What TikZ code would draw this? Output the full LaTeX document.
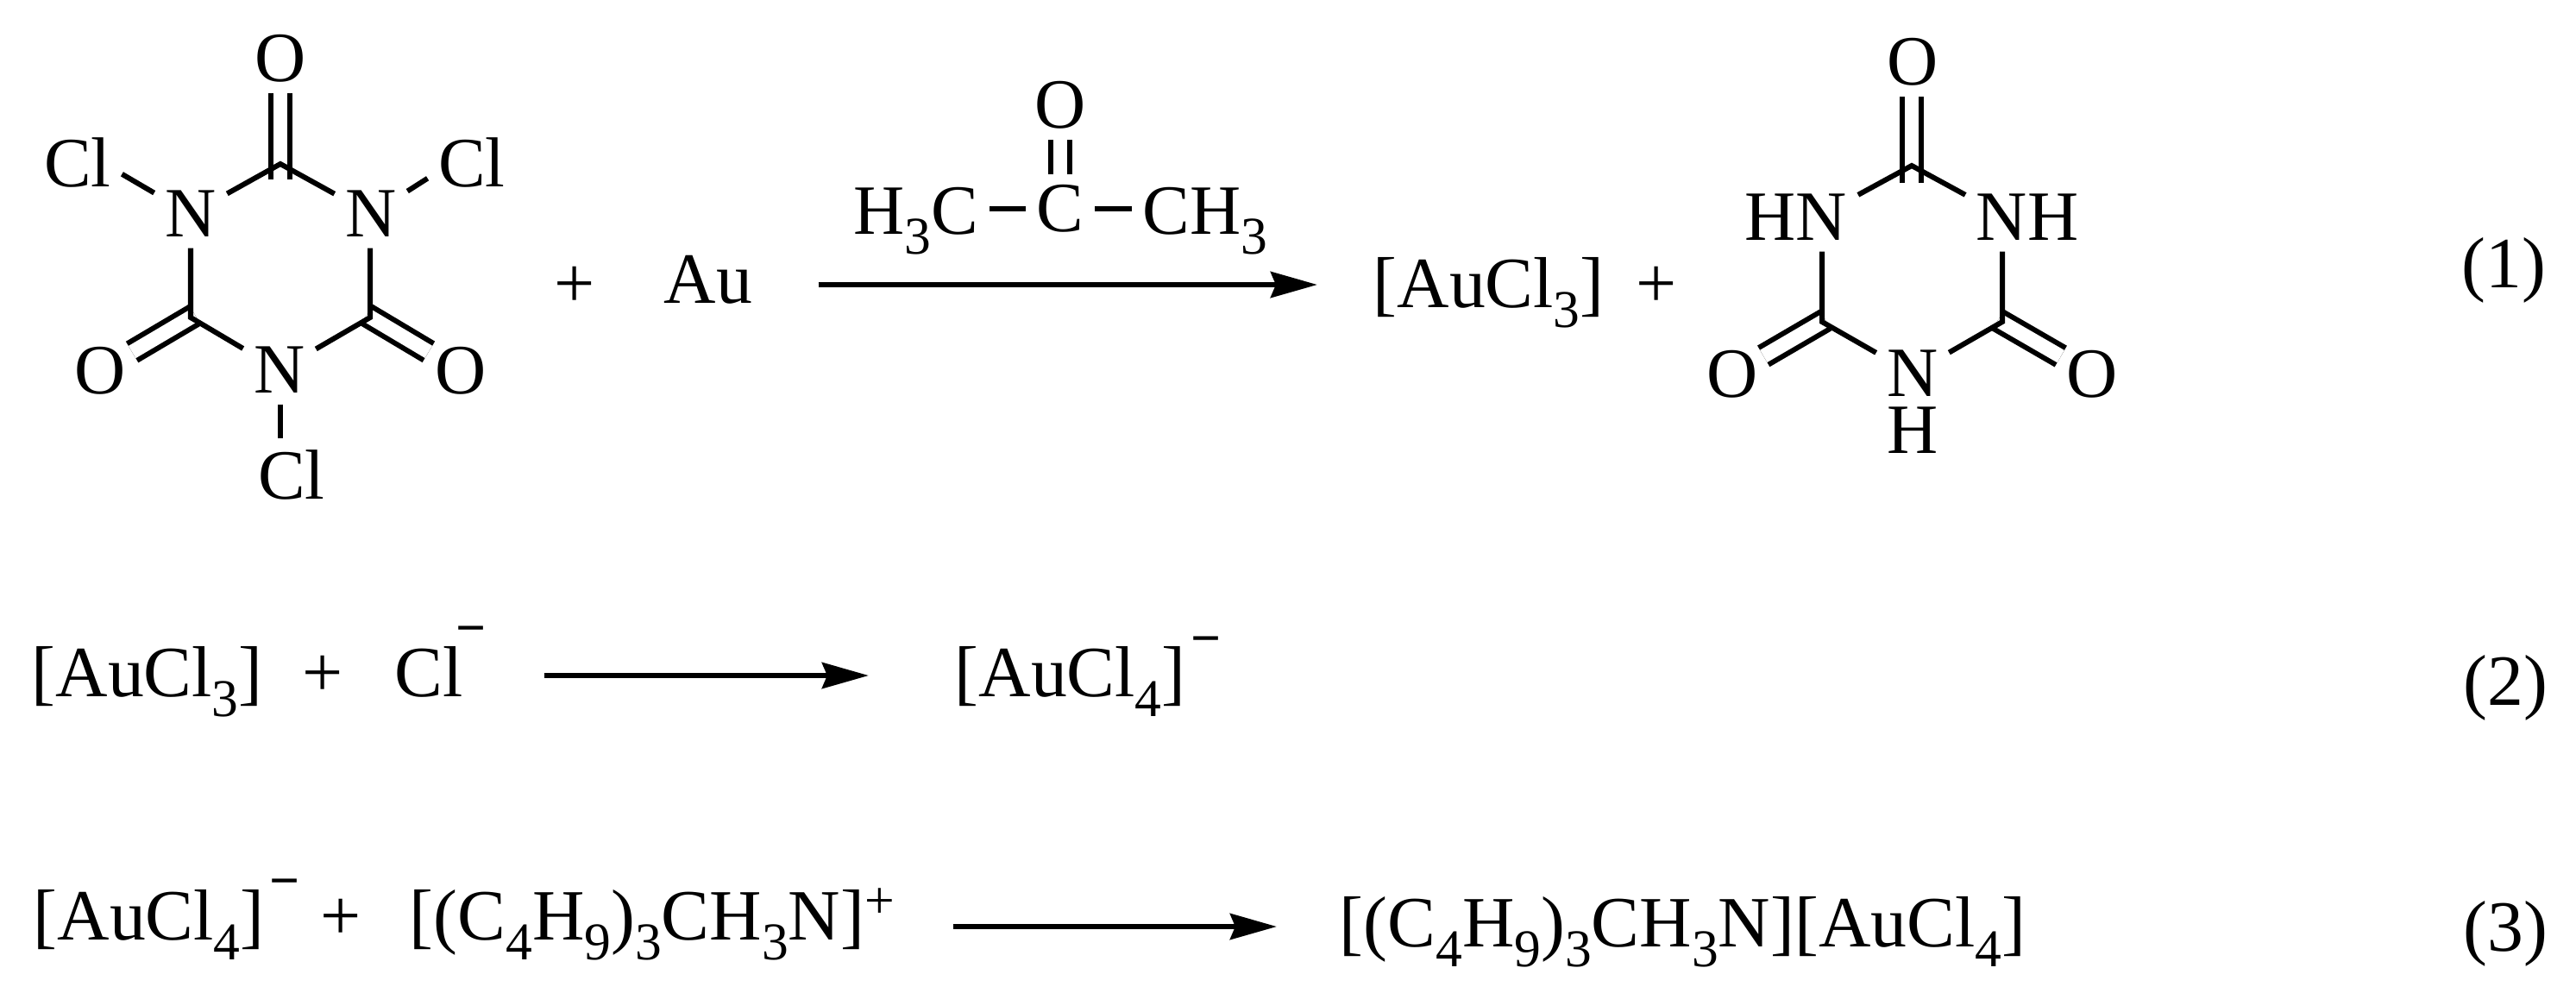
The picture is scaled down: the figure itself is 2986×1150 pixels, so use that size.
\documentclass[tikz,border=0pt]{standalone}
\usepackage{fontspec}
\setmainfont{Liberation Serif}
\usetikzlibrary{arrows.meta}
\newcommand{\chsub}[1]{\raisebox{-.23cm}{\fontsize{17.5}{18}\selectfont #1}}
\newcommand{\chsup}[2]{\raisebox{#1}{\fontsize{17.5}{18}\selectfont #2}}

\begin{document}
\begin{tikzpicture}[x=0.01cm,y=-0.01cm]
        \tikzset{atom/.style = {inner sep=.12cm,font=\fontsize{23.3}{28}\selectfont}}
        \tikzset{species/.style = {inner sep=0pt,anchor=base west,font=\fontsize{23.8}{28}\selectfont}}
        \tikzset{bond/.style = {line width=.06cm}}
        \tikzset{dbond/.style = {line width=.06cm,double,double distance=.165cm}}
        \tikzset{rxn/.style = {-{Stealth[length=.54cm,width=.3cm,inset=.06cm]},line width=.06cm}}
        \useasboundingbox (0,0) rectangle (2986,1150);

        % cyanuric chloride
        \node[atom] (o1) at (325,68) {O};
        \node[atom] (n1) at (221,248) {N};
        \node[atom] (n2) at (430,248) {N};
        \node[atom] (n3) at (324,429) {N};
        \node[atom] (cl1) at (90,188) {Cl};
        \node[atom] (cl2) at (547,188) {Cl};
        \node[atom] (cl3) at (338,550) {Cl};
        \node[atom] (o2) at (116,430) {O};
        \node[atom] (o3) at (534,430) {O};
        \coordinate (c1) at (325,190);
        \coordinate (c2) at (221,368);
        \coordinate (c3) at (429,368);
        \coordinate (d2) at (226,365);
        \coordinate (d3) at (425,365);
        %double bonds
        \draw[dbond] (c1 |- n1.north) -- (c1 |- o1.south);
        \draw[dbond,shorten >=-.06cm] (d2) -- (o2);
        \draw[dbond,shorten >=-.06cm] (d3) -- (o3);
        %single bonds
        \draw[bond] (n1) -- (c1) -- (n2);
        \draw[bond] (c2 |- n1.south) -- (c2) -- (n3);
        \draw[bond] (c3 |- n2.south) -- (c3) -- (n3);
        \draw[bond] (cl1.345) -- (n1.150);
        \draw[bond] (cl2.200) -- (n2.32);
        \draw[bond] (c1 |- n3.south) -- (c1 |- cl3.north);

        % reagents and acetone
        \node[species] (plus1) at (642,356) {+};
        \node[species] (au) at (769,351) {Au};
        \node[atom] (oa) at (1229,122) {O};
        \node[atom] (ca) at (1229,242) {C};
        \node[atom,anchor=base east] (h3c) at (1147,271) {H\chsub{3}C};
        \node[atom,anchor=base west] (ch3) at (1312,271) {CH\chsub{3}};
        \draw[dbond] (ca) -- (oa);
        \draw[bond] (h3c.east |- ca) -- (ca) -- (ch3.west |- ca);
        \coordinate (y1) at (0,330);

        % cyanuric acid
        \node[species] (aucl1) at (1591,356) {[AuCl\chsub{3}]};
        \node[species] (plus2) at (1896,356) {+};
        \node[atom] (o4) at (2217,72) {O};
        \node[atom] (hn) at (2082,252) {HN};
        \node[atom] (nh) at (2350,252) {NH};
        \node[atom] (n4) at (2217,433) {N};
        \node[atom,inner sep=0pt] (h4) at (2217,499) {H};
        \node[atom] (o5) at (2008,434) {O};
        \node[atom] (o6) at (2425,434) {O};
        \coordinate (c4) at (2216,192);
        \coordinate (c5) at (2112,373);
        \coordinate (c6) at (2321,373);
        \coordinate (d5) at (2116,371);
        \coordinate (d6) at (2316,371);
        \draw[dbond] (c4 |- hn.north) -- (c4 |- o4.south);
        \draw[dbond,shorten >=-.07cm] (d5) -- (o5);
        \draw[dbond,shorten >=-.07cm] (d6) -- (o6);
        \draw[bond] (hn.20) -- (c4) -- (nh.160);
        \draw[bond] (c5 |- hn.south) -- (c5) -- (n4);
        \draw[bond] (c6 |- nh.south) -- (c6) -- (n4);
        \node[species] (eq1) at (2853,333) {(1)};

        % second line
        \node[species] (aucl2) at (36,807) {[AuCl\chsub{3}]};
        \node[species] (plus3) at (350,807) {+};
        \node[species] (cl4) at (457,807) {Cl\hspace{-.08cm}\chsup{.58cm}{\bfseries −}};
        \node[species] (aucl3) at (1106,807) {[AuCl\chsub{4}]\hspace{.06cm}\chsup{.46cm}{\bfseries −}};
        \node[species] (eq2) at (2855,817) {(2)};
        \coordinate (y2) at (0,783);

        % third line
        \node[species] (aucl4) at (38,1089) {[AuCl\chsub{4}]\hspace{.06cm}\chsup{.47cm}{\bfseries −}};
        \node[species] (plus4) at (371,1089) {+};
        \node[species] (cat1) at (474,1089) {[(C\chsub{4}H\chsub{9})\chsub{3}CH\chsub{3}N]\chsup{.25cm}{+}};
        \node[species] (prod) at (1552,1097) {[(C\chsub{4}H\chsub{9})\chsub{3}CH\chsub{3}N][AuCl\chsub{4}]};
        \node[species] (eq3) at (2855,1102) {(3)};
        \coordinate (y3) at (0,1074);

        %arrows
        \draw[rxn,shorten <=.76cm,shorten >=.64cm] (au.east |- y1) -- (aucl1.west |- y1);
        \draw[rxn,shorten <=.66cm,shorten >=.99cm] (cl4.east |- y2) -- (aucl3.west |- y2);
        \draw[rxn,shorten <=.67cm,shorten >=.72cm] (cat1.east |- y3) -- (prod.west |- y3);
\end{tikzpicture}
\end{document}
